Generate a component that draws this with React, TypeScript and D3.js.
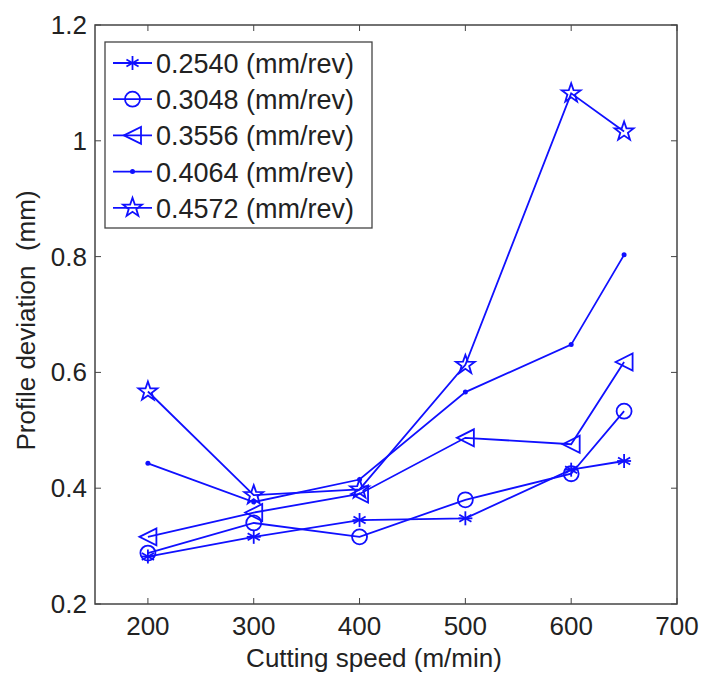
import React from "react";
import * as d3 from "d3";

const speeds = [200, 300, 400, 500, 600, 650];
const feedLabels = ["0.2540 (mm/rev)", "0.3048 (mm/rev)", "0.3556 (mm/rev)", "0.4064 (mm/rev)", "0.4572 (mm/rev)"];
const s0254 = [0.282, 0.316, 0.345, 0.348, 0.432, 0.447];
const s0305 = [0.288, 0.340, 0.316, 0.380, 0.425, 0.533];
const s0356 = [0.316, 0.358, 0.390, 0.487, 0.476, 0.618];
const s0406 = [0.443, 0.376, 0.415, 0.566, 0.648, 0.803];
const s0457 = [0.567, 0.388, 0.398, 0.613, 1.082, 1.016];
const markers = ["asterisk", "circle", "triangleLeft", "point", "pentagram"];
const xTicks = [200, 300, 400, 500, 600, 700];
const yTicks = [0.2, 0.4, 0.6, 0.8, 1.0, 1.2];

const W = 703, H = 675;
const L = 95, R = 677, T = 25, B = 604;
const BLUE = "#1010ff";
const FONT = "Arial, 'Liberation Sans', Helvetica, sans-serif";

function Marker({ type, x, y }: { type: string; x: number; y: number }) {
  const sw = 1.8;
  if (type === "asterisk") {
    const r = 7;
    const lines = [0, 60, 120].map((a) => {
      const rad = (a * Math.PI) / 180;
      return [Math.sin(rad) * r, -Math.cos(rad) * r];
    });
    return (
      <g stroke={BLUE} strokeWidth={sw}>
        <line x1={x - r} y1={y} x2={x + r} y2={y} />
        {lines.map(([dx, dy], i) => (
          <line key={i} x1={x - dx} y1={y - dy} x2={x + dx} y2={y + dy} />
        ))}
      </g>
    );
  }
  if (type === "circle") {
    return <circle cx={x} cy={y} r={7.5} fill="none" stroke={BLUE} strokeWidth={sw} />;
  }
  if (type === "triangleLeft") {
    const s = 8.5;
    return (
      <path d={`M${x - s},${y} L${x + s},${y - s} L${x + s},${y + s} Z`} fill="none" stroke={BLUE} strokeWidth={sw} />
    );
  }
  if (type === "point") {
    return <circle cx={x} cy={y} r={2.5} fill={BLUE} />;
  }
  // pentagram
  const ro = 10, ri = 4;
  const pts: string[] = [];
  for (let i = 0; i < 10; i++) {
    const a = (Math.PI / 5) * i - Math.PI / 2;
    const rr = i % 2 === 0 ? ro : ri;
    pts.push(`${x + rr * Math.cos(a)},${y + rr * Math.sin(a)}`);
  }
  return <polygon points={pts.join(" ")} fill="none" stroke={BLUE} strokeWidth={sw} />;
}

export default function App() {
  const x = d3.scaleLinear().domain([150, 700]).range([L, R]);
  const y = d3.scaleLinear().domain([0.2, 1.2]).range([B, T]);
  const series = [s0254, s0305, s0356, s0406, s0457];
  const line = d3
    .line<number>()
    .x((_, i) => x(speeds[i]))
    .y((d) => y(d));
  const axisColor = "#444";
  const tl = 6;
  const legX = 105, legY = 42, legW = 267, legH = 186;
  const legRow0 = 63, legStep = 36.2;

  return (
    <div style={{ position: "absolute", left: 0, top: 0, background: "#fff" }}>
      <svg width={W} height={H} style={{ display: "block" }}>
        <rect x={0} y={0} width={W} height={H} fill="#fff" />
        {/* ticks */}
        {xTicks.map((t) => (
          <g key={"xt" + t} stroke={axisColor} strokeWidth={1}>
            <line x1={x(t)} y1={B} x2={x(t)} y2={B - tl} />
            <line x1={x(t)} y1={T} x2={x(t)} y2={T + tl} />
          </g>
        ))}
        {yTicks.map((t) => (
          <g key={"yt" + t} stroke={axisColor} strokeWidth={1}>
            <line x1={L} y1={y(t)} x2={L + tl} y2={y(t)} />
            <line x1={R} y1={y(t)} x2={R - tl} y2={y(t)} />
          </g>
        ))}
        {/* data */}
        {series.map((s, si) => (
          <g key={"s" + si}>
            <path d={line(s) || ""} fill="none" stroke={BLUE} strokeWidth={1.8} />
            {s.map((v, i) => (
              <Marker key={i} type={markers[si]} x={x(speeds[i])} y={y(v)} />
            ))}
          </g>
        ))}
        {/* axes box */}
        <rect x={L} y={T} width={R - L} height={B - T} fill="none" stroke={axisColor} strokeWidth={1.5} />
        {/* tick labels */}
        {xTicks.map((t) => (
          <text key={"xl" + t} x={x(t)} y={635} textAnchor="middle" fontFamily={FONT} fontSize={26} fill="#222">
            {t}
          </text>
        ))}
        {yTicks.map((t) => (
          <text key={"yl" + t} x={87} y={y(t) + 9} textAnchor="end" fontFamily={FONT} fontSize={26} fill="#222">
            {t === 1 ? "1" : t.toFixed(1)}
          </text>
        ))}
        {/* axis labels */}
        <text x={(L + R) / 2 - 12} y={667} textAnchor="middle" fontFamily={FONT} fontSize={26} fill="#222">
          Cutting speed (m/min)
        </text>
        <text
          transform={`translate(35, ${(T + B) / 2 + 6}) rotate(-90)`}
          textAnchor="middle"
          fontFamily={FONT}
          fontSize={26}
          fill="#222"
          style={{ whiteSpace: "pre" }}
        >
          {"Profile deviation  (mm)"}
        </text>
        {/* legend */}
        <rect x={legX} y={legY} width={legW} height={legH} fill="#fff" stroke={axisColor} strokeWidth={1.3} />
        {feedLabels.map((lab, i) => {
          const cy = legRow0 + i * legStep;
          return (
            <g key={"lg" + i}>
              <line x1={113} y1={cy} x2={152} y2={cy} stroke={BLUE} strokeWidth={1.8} />
              <Marker type={markers[i]} x={132.5} y={cy} />
              <text x={156} y={cy + 10} fontFamily={FONT} fontSize={27} fill="#222">
                {lab}
              </text>
            </g>
          );
        })}
      </svg>
    </div>
  );
}
